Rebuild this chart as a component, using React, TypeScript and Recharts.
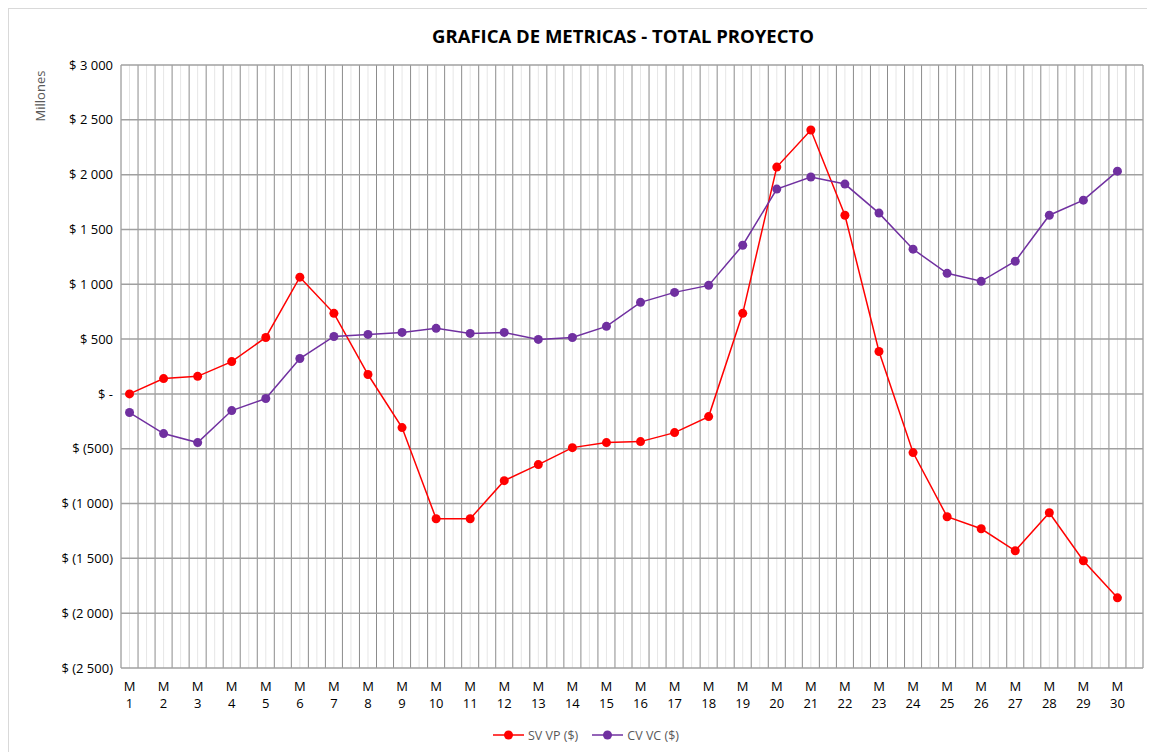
import { LineChart, Line, XAxis, YAxis, CartesianGrid, Legend } from 'recharts'

const months = [1, 2, 3, 4, 5, 6, 7, 8, 9, 10, 11, 12, 13, 14, 15, 16, 17, 18, 19, 20, 21, 22, 23, 24, 25, 26, 27, 28, 29, 30]

// millones
const svVp = [0, 140, 160, 295, 515, 1065, 735, 177, -307, -1139, -1139, -791, -645, -490, -444, -435, -353, -207, 735, 2069, 2407, 1630, 387, -535, -1120, -1230, -1431, -1084, -1522, -1860]
const cvVc = [-170, -362, -444, -152, -42, 323, 524, 543, 561, 598, 552, 561, 497, 515, 616, 835, 926, 990, 1356, 1868, 1978, 1914, 1649, 1320, 1100, 1027, 1210, 1630, 1767, 2032]

const yTicks = [-2500, -2000, -1500, -1000, -500, 0, 500, 1000, 1500, 2000, 2500, 3000]

// the excel sheet has 60 slots, every month sits in the middle of an odd slot
const majorTicks = Array.from({ length: 61 }, (_, i) => i)
const minorTicks = Array.from({ length: 60 }, (_, i) => i + 0.5)

const data = months.map((m, i) => ({ pos: i * 2 + 0.5, month: m, sv: svVp[i], cv: cvVc[i] }))

const FONT = '"Open Sans", sans-serif'

const money = (v: number) => {
  if (v === 0) return '$ -'
  const s = Math.abs(v).toString().replace(/\B(?=(\d{3})+(?!\d))/g, ' ')
  return v < 0 ? `$ (${s})` : `$ ${s}`
}

function MonthTick(props: any) {
  const { x, y, payload } = props
  const idx = Math.round((payload.value - 0.5) / 2)
  return (
    <text x={x} y={y} textAnchor="middle" fontFamily={FONT} fontSize={13} fill="#000">
      <tspan x={x} dy={15}>M</tspan>
      <tspan x={x} dy={17}>{months[idx]}</tspan>
    </text>
  )
}

function LegendBox() {
  const items = [
    { name: 'SV VP ($)', color: '#ff0000' },
    { name: 'CV VC ($)', color: '#7030a0' },
  ]
  return (
    <div style={{ display: 'flex', justifyContent: 'center', alignItems: 'center', height: 30, gap: 14, fontFamily: FONT, fontSize: 12.5, color: '#595959', paddingRight: 12 }}>
      {items.map((it) => (
        <div key={it.name} style={{ display: 'flex', alignItems: 'center', gap: 4 }}>
          <svg width={31} height={12}>
            <line x1={0} y1={6} x2={31} y2={6} stroke={it.color} strokeWidth={1.5} />
            <circle cx={15.5} cy={6} r={4.5} fill={it.color} />
          </svg>
          <span>{it.name}</span>
        </div>
      ))}
    </div>
  )
}

export default function App() {
  return (
    <div style={{ position: 'relative', width: 1147, height: 744, background: '#fff', borderLeft: '1px solid #d9d9d9', borderTop: '1px solid #d9d9d9', boxSizing: 'border-box' }}>
      <div style={{ position: 'absolute', top: 14, left: 0, width: 1228, textAlign: 'center', fontFamily: FONT, fontWeight: 700, fontSize: 18.5, color: '#000' }}>
        GRAFICA DE METRICAS - TOTAL PROYECTO
      </div>
      <div style={{ position: 'absolute', left: 31, top: 87, transform: 'translate(-50%, -50%) rotate(-90deg)', fontFamily: FONT, fontSize: 13, color: '#595959' }}>
        Millones
      </div>
      <LineChart width={1146} height={743} data={data} margin={{ top: 56, right: 12, left: 32, bottom: 2 }}>
        <XAxis xAxisId="major" type="number" dataKey="pos" domain={[0, 60]} ticks={majorTicks} interval={0} hide />
        <XAxis xAxisId="minor" type="number" dataKey="pos" domain={[0, 60]} ticks={minorTicks} interval={0} hide />
        <XAxis
          xAxisId="main"
          type="number"
          dataKey="pos"
          domain={[0, 60]}
          ticks={data.map((d) => d.pos)}
          interval={0}
          tick={<MonthTick />}
          axisLine={false}
          tickLine={false}
          height={52}
        />
        <YAxis
          type="number"
          domain={[-2500, 3000]}
          ticks={yTicks}
          interval={0}
          tickFormatter={money}
          axisLine={false}
          tickLine={false}
          width={80}
          tickMargin={2}
          tick={{ fontFamily: FONT, fontSize: 13, fill: '#000' }}
        />
        <CartesianGrid xAxisId="minor" horizontal={false} stroke="#e6e6e6" strokeWidth={1} />
        <CartesianGrid xAxisId="major" horizontal={false} stroke="#8c8c8c" strokeWidth={1} />
        <CartesianGrid xAxisId="main" vertical={false} stroke="#a0a0a0" strokeWidth={1.5} />
        <Legend verticalAlign="bottom" height={30} content={() => <LegendBox />} />
        <Line xAxisId="main" type="linear" dataKey="sv" name="SV VP ($)" stroke="#ff0000" strokeWidth={1.5} dot={{ r: 4.5, fill: '#ff0000', stroke: '#ff0000', strokeWidth: 0 }} isAnimationActive={false} />
        <Line xAxisId="main" type="linear" dataKey="cv" name="CV VC ($)" stroke="#7030a0" strokeWidth={1.5} dot={{ r: 4.5, fill: '#7030a0', stroke: '#7030a0', strokeWidth: 0 }} isAnimationActive={false} />
      </LineChart>
    </div>
  )
}
